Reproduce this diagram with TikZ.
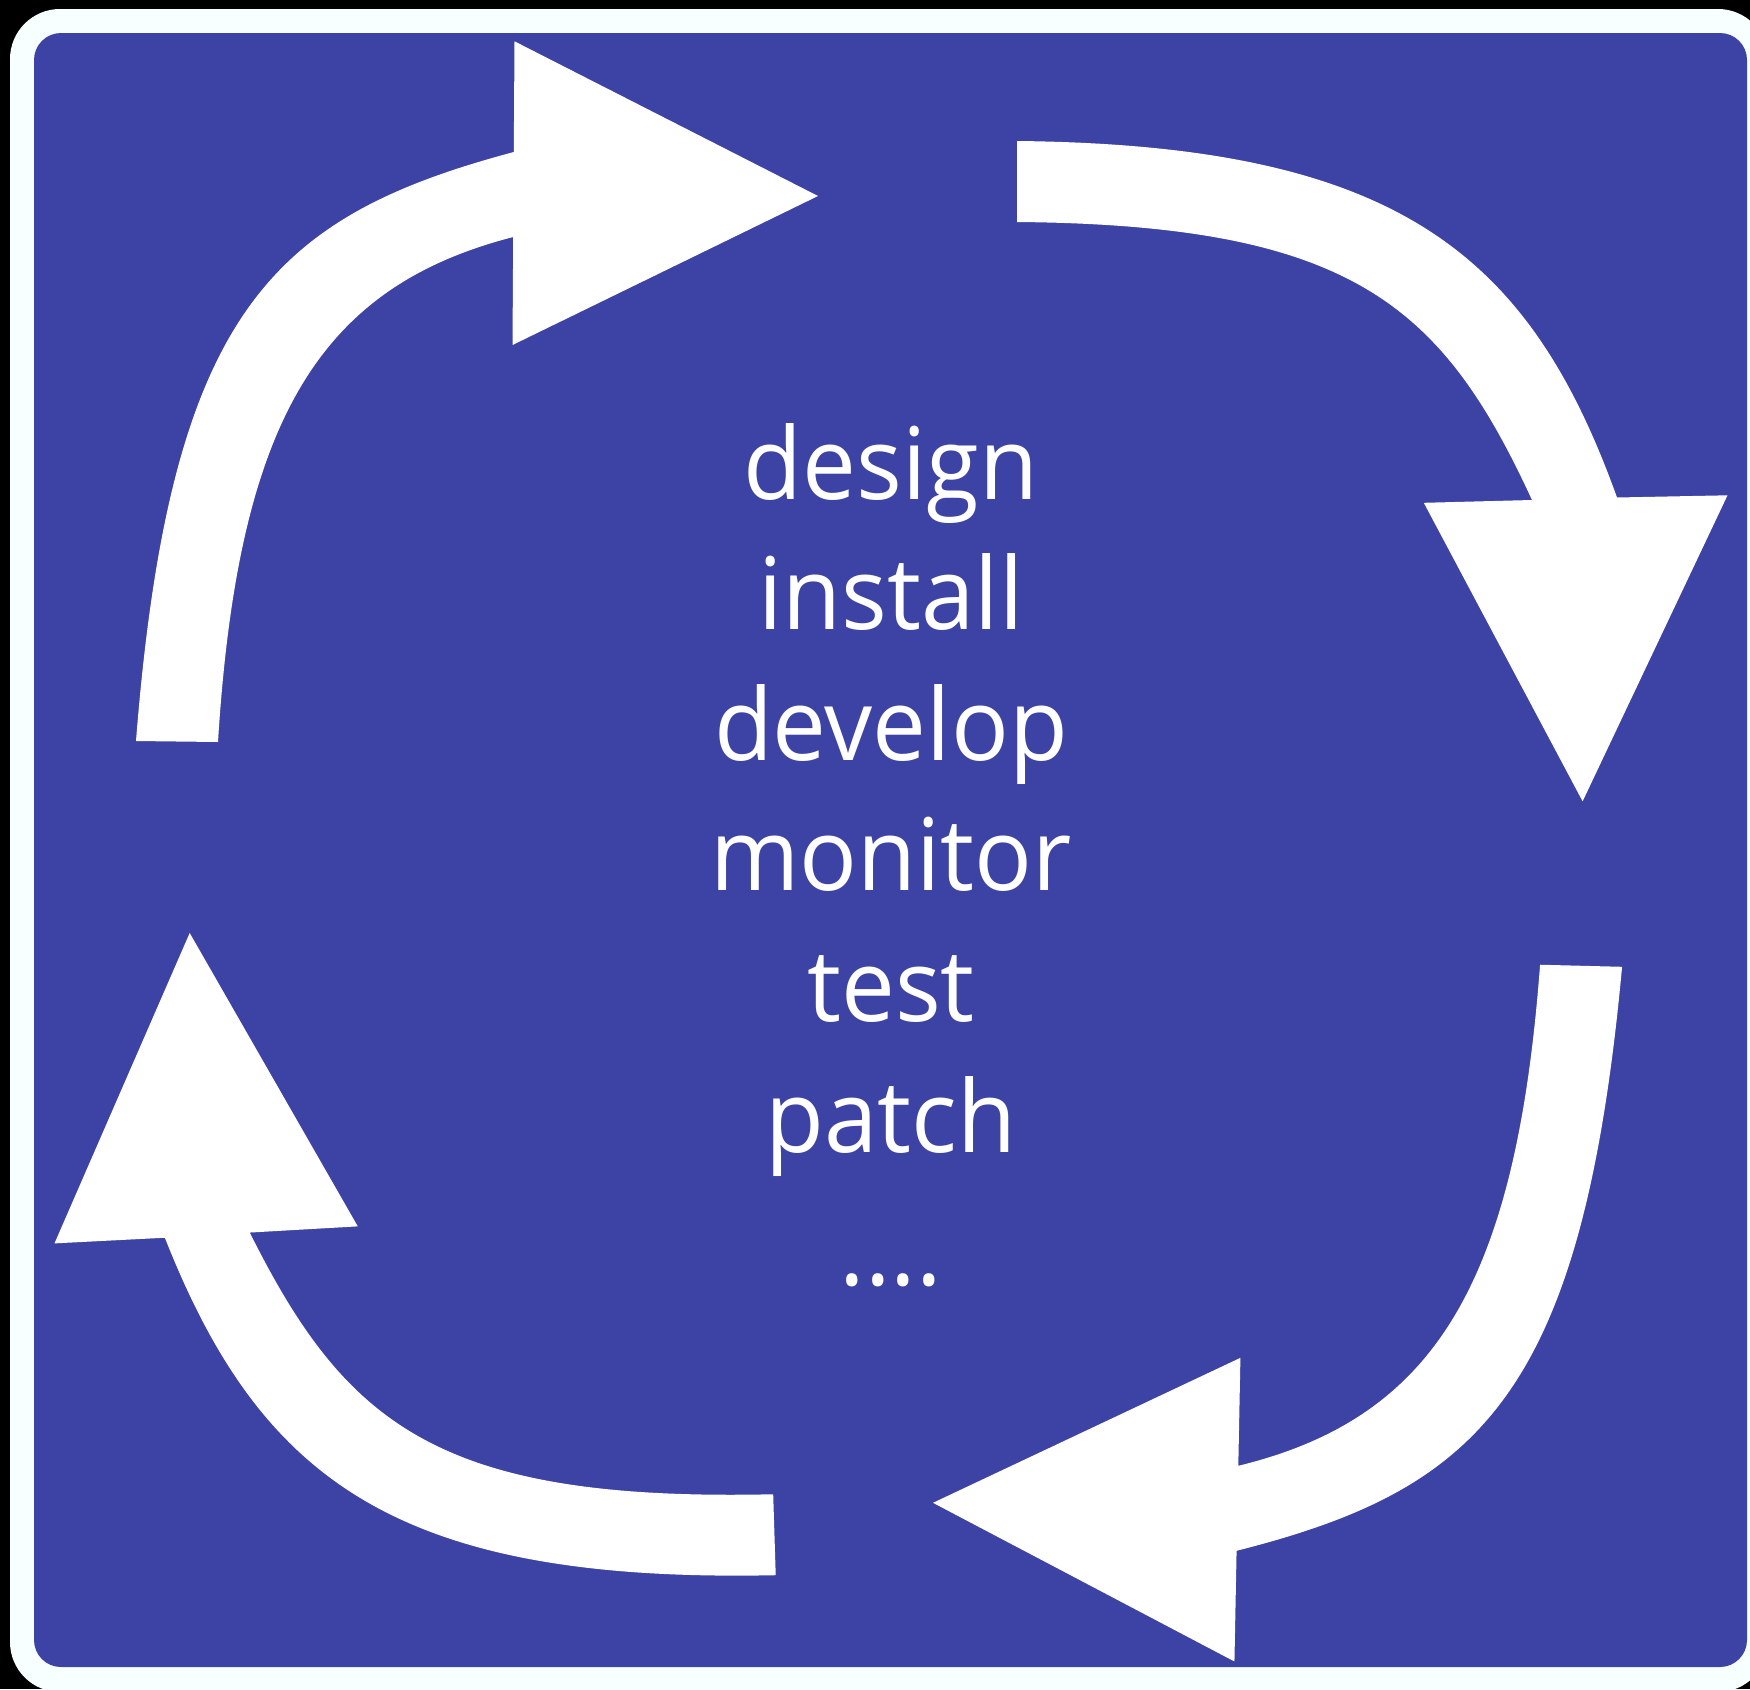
\documentclass[tikz,border=0pt]{standalone}
\usepackage{fontspec}
\newfontfamily\lblfont{Open Sans}[FakeStretch=0.96]
\definecolor{signblue}{RGB}{60,67,164}
\definecolor{rimwhite}{RGB}{247,255,255}
\tikzset{
  arrowfill/.style={fill=white},
  lbl/.style={text=white, anchor=base, inner sep=0pt, font=\lblfont\fontsize{100}{120}\selectfont},
  % curved arrow, tail lower left, head pointing right (tip at 818,196)
  arrowone/.pic={
    \fill[arrowfill] (136,741) .. controls (170,311) and (272.3,216.7) .. (513.8,152)
      -- (514.5,41.3) -- (818,196) -- (512.5,345) -- (513.2,237)
      .. controls (319,287) and (238,420) .. (218,742) -- cycle;
  },
  % curved arrow, tail upper left, head pointing down (tip at 1582.6,801.3)
  arrowtwo/.pic={
    \fill[arrowfill] (1017,141) .. controls (1397,145) and (1529,253) .. (1617,497.5)
      -- (1727.5,495.3) -- (1582.6,801.3) -- (1423.8,502.8) -- (1532,500)
      .. controls (1442,305) and (1352,225) .. (1017,222) -- cycle;
  }
}
\begin{document}
\begin{tikzpicture}[x=1pt,y=-1pt]
\useasboundingbox (0,0) rectangle (1750,1689);
\begin{scope}
\clip (0,0) rectangle (1750,1689);
\fill[black] (0,0) rectangle (1750,1689);
\fill[rimwhite, rounded corners=50pt] (10,9) rectangle (1768,1692);
\fill[signblue, rounded corners=27pt] (34,33) rectangle (1747,1667);
\end{scope}
% arrow 1 (top left, pointing right)
\pic {arrowone};
% arrow 2 (top right, pointing down)
\pic {arrowtwo};
% arrow 3 (bottom right, pointing left): arrow 1 turned round
\begin{scope}[shift={(933,1502.8)}, rotate=179.25, shift={(-818,-196)}]
\pic[transform shape] {arrowone};
\end{scope}
% arrow 4 (bottom left, pointing up): arrow 2 turned round
\begin{scope}[shift={(189.7,933)}, rotate=181.8, shift={(-1582.6,-801.3)}]
\pic[transform shape] {arrowtwo};
\end{scope}
% labels
\node[lbl] (t1) at (891,499) {design};
\node[lbl] (t2) at (891,629.3) {install};
\node[lbl] (t3) at (891,760) {develop};
\node[lbl] (t4) at (891,890.7) {monitor};
\node[lbl] (t5) at (891,1021.7) {test};
\node[lbl] (t6) at (891,1152.7) {patch};
\node[lbl] (t7) at (891,1285) {....};
\end{tikzpicture}
\end{document}
